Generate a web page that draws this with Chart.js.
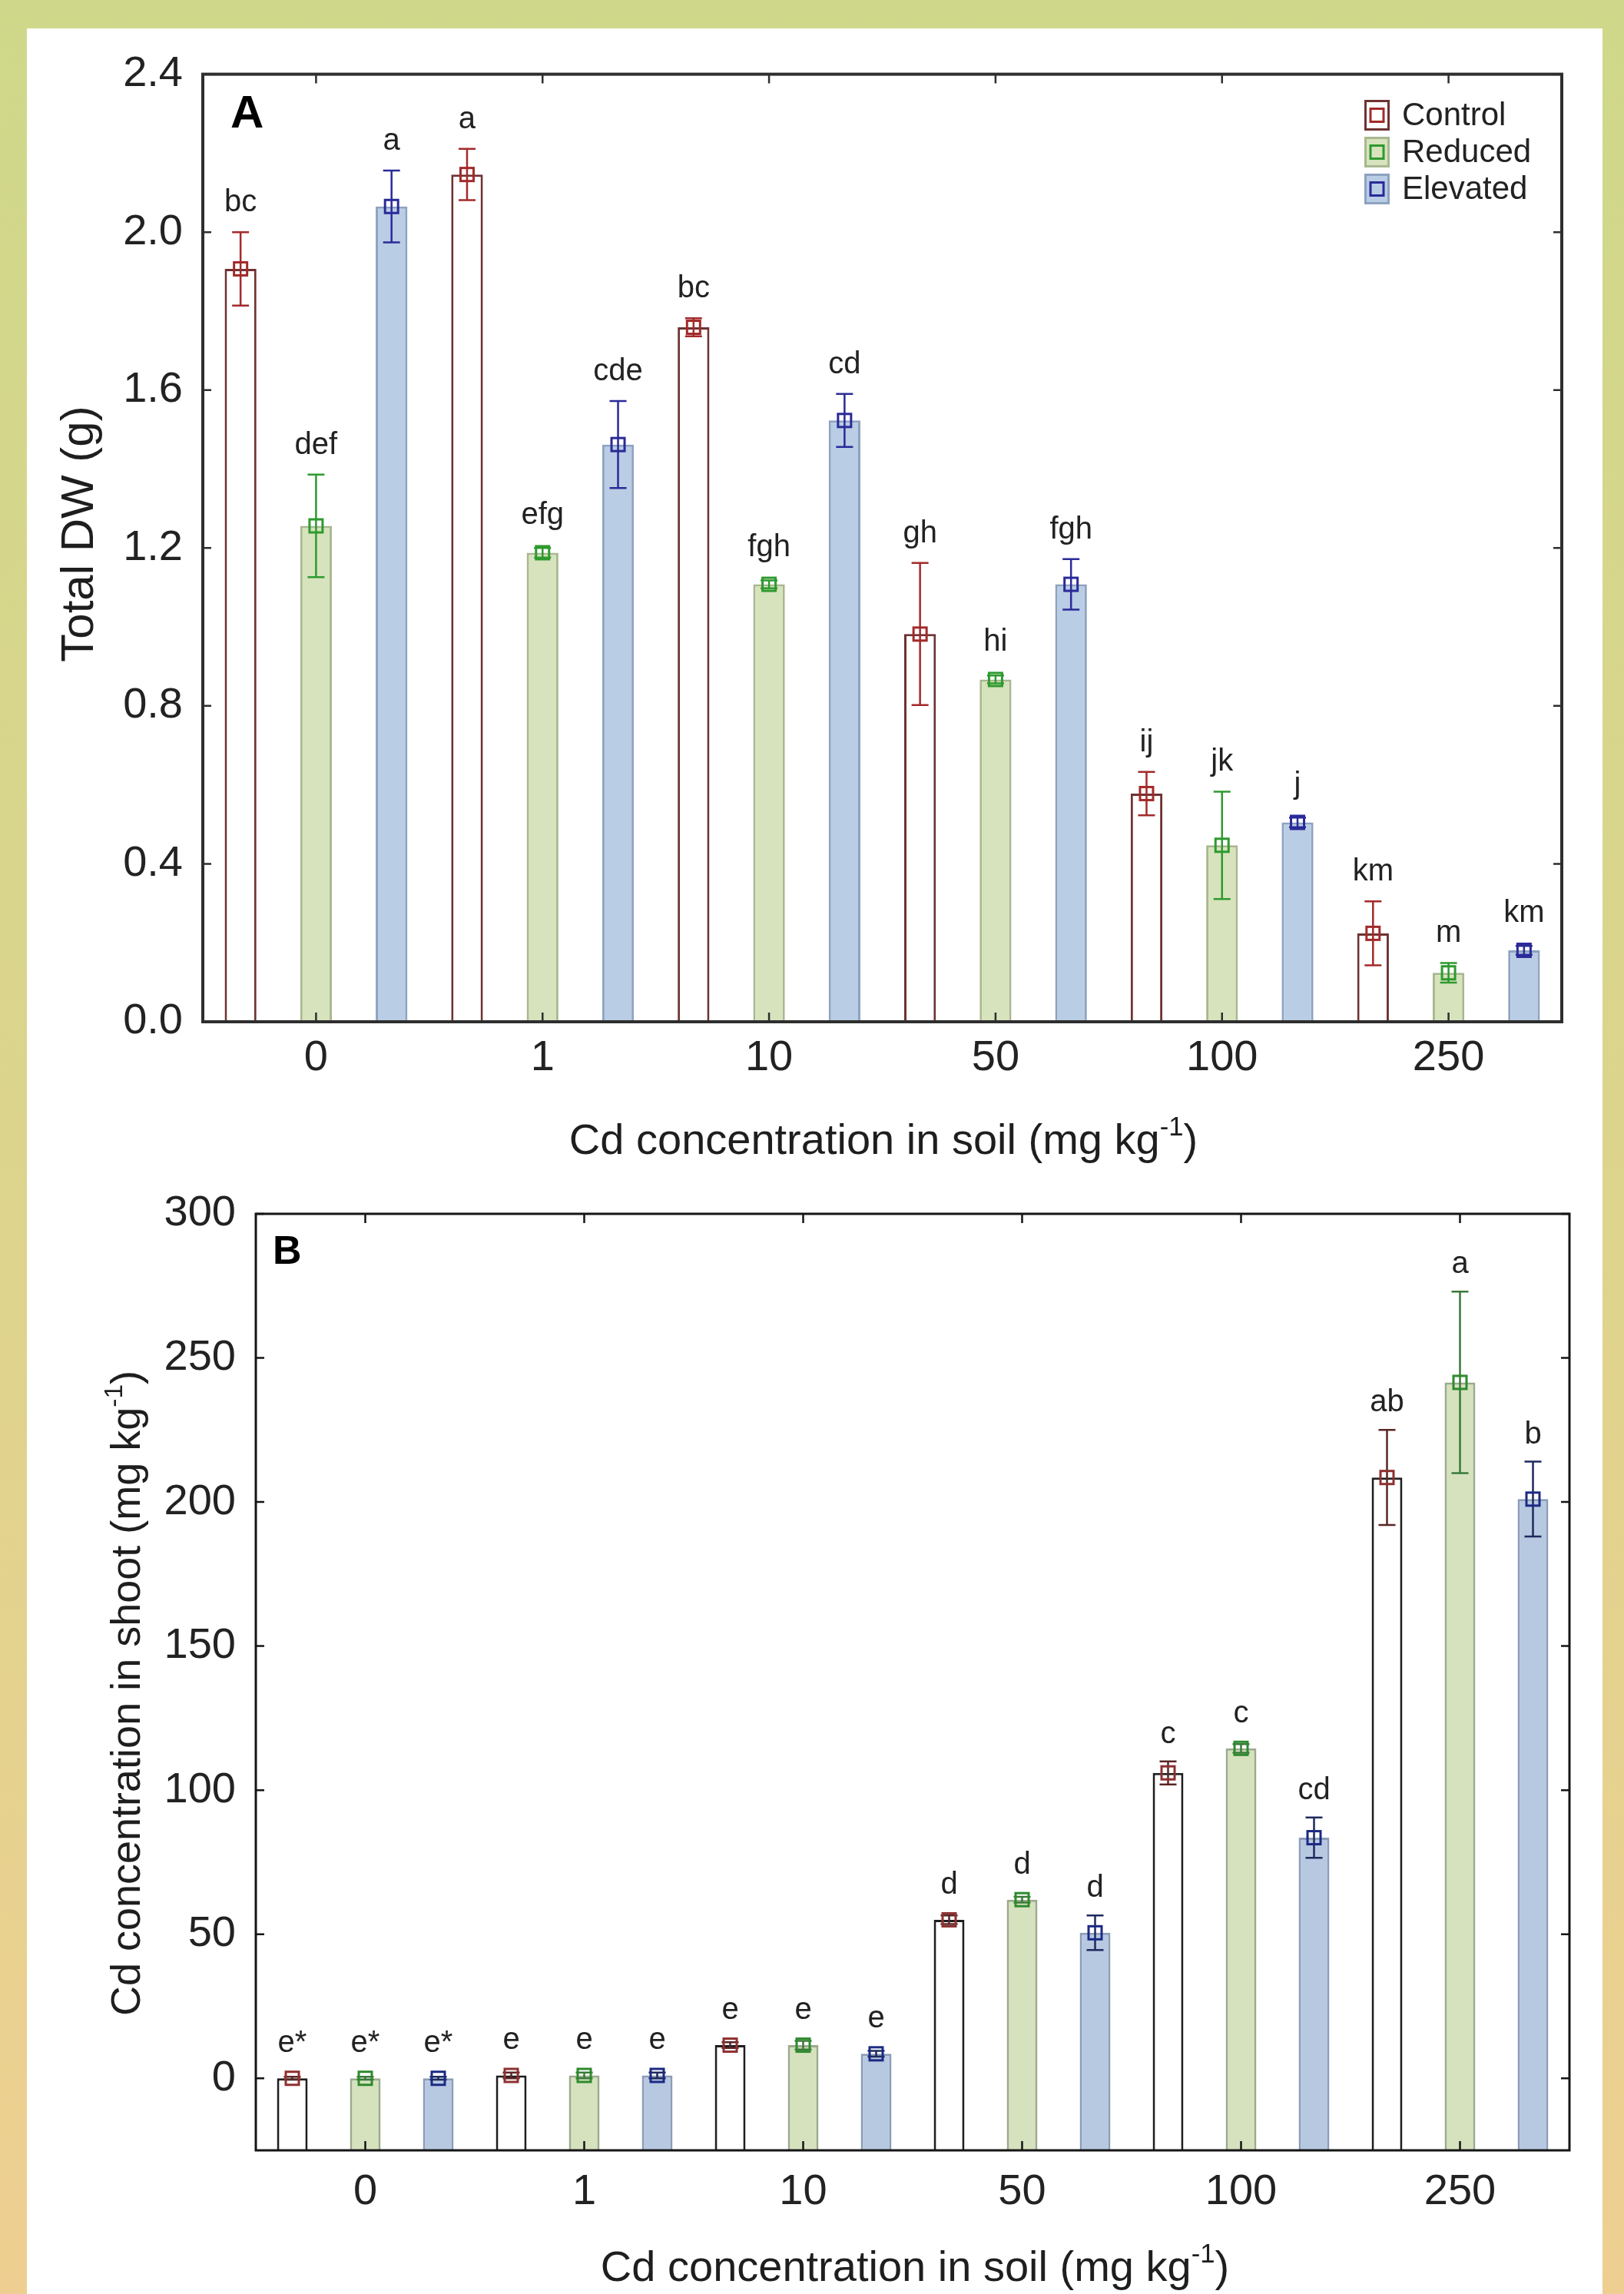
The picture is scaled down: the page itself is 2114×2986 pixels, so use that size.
<!DOCTYPE html>
<html>
<head>
<meta charset="utf-8">
<script src="https://cdn.jsdelivr.net/npm/chart.js@4.4.1/dist/chart.umd.min.js"></script>
<style>
  html, body { margin: 0; padding: 0; }
  body {
    width: 2114px; height: 2986px; position: relative; overflow: hidden;
    background: linear-gradient(to bottom, #cfd88a 0%, #dcd48d 50%, #eecf91 100%);
  }
  #panel { position: absolute; left: 35px; top: 37px; width: 2051px; height: 2949px; background: #fff; }
  canvas { position: absolute; left: 35px; }
  #chartA { top: 37px; }
  #chartB { top: 1490px; }
</style>
</head>
<body>
<div id="panel"></div>
<canvas id="chartA" width="2051" height="1530"></canvas>
<canvas id="chartB" width="2051" height="1496"></canvas>
<script>
// categories: Cd concentration in soil (mg/kg)
const categories = ['0', '1', '10', '50', '100', '250'];
const seriesNames = ['Control', 'Reduced', 'Elevated'];

// panel A - total dry weight (g), mean and error
const dwControl = [1.907, 2.146, 1.759, 0.982, 0.578, 0.224];
const dwControlErr = [0.093, 0.065, 0.023, 0.18, 0.055, 0.081];
const dwReduced = [1.256, 1.188, 1.108, 0.867, 0.447, 0.124];
const dwReducedErr = [0.13, 0.012, 0.01, 0.01, 0.136, 0.025];
const dwElevated = [2.065, 1.462, 1.523, 1.108, 0.505, 0.181];
const dwElevatedErr = [0.091, 0.11, 0.067, 0.064, 0.012, 0.011];
const dwLettersControl = ['bc', 'a', 'bc', 'gh', 'ij', 'km'];
const dwLettersReduced = ['def', 'efg', 'fgh', 'hi', 'jk', 'm'];
const dwLettersElevated = ['a', 'cde', 'cd', 'fgh', 'j', 'km'];
const dwTicks = [0, 0.4, 0.8, 1.2, 1.6, 2.0, 2.4];

// panel B - Cd concentration in shoot (mg/kg)
const cdControl = [0, 1, 11.5, 55, 106, 208.5];
const cdControlErr = [0.5, 1, 1, 1.5, 4, 16.5];
const cdReduced = [0, 1, 11.5, 62, 114.5, 241.5];
const cdReducedErr = [0.5, 1, 1.5, 1, 1.5, 31.5];
const cdElevated = [0, 1, 8.5, 50.5, 83.5, 201];
const cdElevatedErr = [0.5, 1, 1, 6, 7, 13];
const cdLettersControl = ['e*', 'e', 'e', 'd', 'c', 'ab'];
const cdLettersReduced = ['e*', 'e', 'e', 'd', 'c', 'a'];
const cdLettersElevated = ['e*', 'e', 'e', 'd', 'cd', 'b'];
const cdTicks = [0, 50, 100, 150, 200, 250, 300];

const FONT = '"Liberation Sans", Arial, sans-serif';
Chart.defaults.font.family = FONT;
Chart.defaults.color = '#222';

// draws a title with a "-1" superscript part
function drawTitle(ctx, parts, x, y, size, rotate) {
  ctx.save();
  ctx.translate(x, y);
  if (rotate) ctx.rotate(-Math.PI / 2);
  ctx.fillStyle = '#1e1e1e';
  ctx.textBaseline = 'alphabetic';
  ctx.textAlign = 'left';
  const sizes = parts.map((p, i) => (i === 1 ? size * 0.62 : size));
  const widths = parts.map((p, i) => { ctx.font = sizes[i] + 'px ' + FONT; return ctx.measureText(p).width; });
  let cx = -widths.reduce((a, b) => a + b, 0) / 2;
  parts.forEach((p, i) => {
    ctx.font = sizes[i] + 'px ' + FONT;
    ctx.fillText(p, cx, i === 1 ? -size * 0.42 : 0);
    cx += widths[i];
  });
  ctx.restore();
}

function extras(cfg) {
  return {
    id: 'extras',
    afterDatasetsDraw(chart) {
      const ctx = chart.ctx, ys = chart.scales.y;
      cfg.means.forEach((vals, d) => {
        chart.getDatasetMeta(d).data.forEach((bar, i) => {
          const x = bar.x;
          const ym = ys.getPixelForValue(vals[i]);
          const yt = ys.getPixelForValue(vals[i] + cfg.errs[d][i]);
          const yb = ys.getPixelForValue(vals[i] - cfg.errs[d][i]);
          ctx.save();
          ctx.strokeStyle = cfg.errColors[d];
          ctx.lineWidth = 2.5;
          ctx.beginPath();
          ctx.moveTo(x, yt); ctx.lineTo(x, yb);
          ctx.moveTo(x - 11, yt); ctx.lineTo(x + 11, yt);
          ctx.moveTo(x - 11, yb); ctx.lineTo(x + 11, yb);
          ctx.stroke();
          ctx.strokeStyle = cfg.markColors[d];
          ctx.lineWidth = 3;
          ctx.strokeRect(x - 8.5, ym - 8.5, 17, 17);
          ctx.fillStyle = '#222';
          ctx.font = '40px ' + FONT;
          ctx.textAlign = 'center';
          ctx.textBaseline = 'alphabetic';
          ctx.fillText(cfg.letters[d][i], x, Math.min(yt, ym - 10) - cfg.gap);
          ctx.restore();
        });
      });
    },
    afterDraw(chart) {
      const ctx = chart.ctx, a = chart.chartArea, xs = chart.scales.x, ys = chart.scales.y;
      ctx.save();
      // frame and inward ticks
      ctx.strokeStyle = cfg.frameColor;
      ctx.lineWidth = cfg.frameWidth;
      ctx.strokeRect(a.left, a.top, a.right - a.left, a.bottom - a.top);
      ctx.lineWidth = 2.5;
      ctx.beginPath();
      cfg.ticks.forEach(v => {
        const p = ys.getPixelForValue(v);
        ctx.moveTo(a.left, p); ctx.lineTo(a.left + 11, p);
        ctx.moveTo(a.right, p); ctx.lineTo(a.right - 11, p);
      });
      categories.forEach((c, i) => {
        const p = xs.getPixelForValue(i);
        ctx.moveTo(p, a.top); ctx.lineTo(p, a.top + 12);
        ctx.moveTo(p, a.bottom); ctx.lineTo(p, a.bottom - 12);
      });
      ctx.stroke();
      // panel letter
      ctx.fillStyle = '#000';
      ctx.font = 'bold ' + cfg.panelSize + 'px ' + FONT;
      ctx.textAlign = 'left';
      ctx.textBaseline = 'alphabetic';
      ctx.fillText(cfg.panel, a.left + cfg.panelDx, a.top + cfg.panelDy);
      ctx.restore();
      // axis titles
      drawTitle(ctx, cfg.xTitle, cfg.xTitlePos[0], cfg.xTitlePos[1], cfg.xTitleSize, false);
      drawTitle(ctx, cfg.yTitle, cfg.yTitlePos[0], cfg.yTitlePos[1], cfg.yTitleSize, true);
      // legend
      if (cfg.legend) {
        ctx.save();
        seriesNames.forEach((name, i) => {
          const bx = cfg.legend[0], by = cfg.legend[1] + i * 48;
          ctx.fillStyle = cfg.fills[i];
          ctx.fillRect(bx, by, 33, 40);
          ctx.strokeStyle = cfg.borders[i];
          ctx.lineWidth = 3;
          ctx.strokeRect(bx + 1.5, by + 1.5, 30, 37);
          ctx.strokeStyle = cfg.markColors[i];
          ctx.strokeRect(bx + 8, by + 11.5, 17, 17);
          ctx.fillStyle = '#222';
          ctx.font = '42px ' + FONT;
          ctx.fillText(name, bx + 49, by + 33);
        });
        ctx.restore();
      }
    }
  };
}

function makeChart(id, cfg) {
  const datasets = seriesNames.map((name, d) => ({
    label: name,
    data: cfg.means[d],
    base: cfg.base,
    backgroundColor: cfg.fills[d],
    borderColor: cfg.borders[d],
    borderWidth: 3,
    barPercentage: 0.42,
    categoryPercentage: 1.0
  }));
  return new Chart(document.getElementById(id), {
    type: 'bar',
    data: { labels: categories, datasets },
    options: {
      responsive: false,
      animation: false,
      layout: { padding: { top: cfg.pad[0], right: cfg.pad[1], left: 0, bottom: 0 } },
      plugins: { legend: { display: false }, tooltip: { enabled: false } },
      scales: {
        x: {
          grid: { display: false, drawTicks: false },
          border: { display: false },
          ticks: { font: { size: 56 }, color: '#222', padding: cfg.xPad },
          afterFit: s => { s.height = cfg.xHeight; }
        },
        y: {
          min: cfg.min, max: cfg.max,
          grid: { display: false, drawTicks: false },
          border: { display: false },
          ticks: { font: { size: 56 }, color: '#222', padding: 26, callback: cfg.fmt },
          afterBuildTicks: s => { s.ticks = cfg.ticks.map(v => ({ value: v })); },
          afterFit: s => { s.width = cfg.yWidth; }
        }
      }
    },
    plugins: [extras(cfg)]
  });
}

makeChart('chartA', {
  means: [dwControl, dwReduced, dwElevated],
  errs: [dwControlErr, dwReducedErr, dwElevatedErr],
  letters: [dwLettersControl, dwLettersReduced, dwLettersElevated],
  ticks: dwTicks, min: 0, max: 2.4, base: 0,
  fmt: v => v.toFixed(1),
  fills: ['#ffffff', '#d7e3bd', '#b9cde5'],
  borders: ['#6e3232', '#a9b78f', '#8ea2c0'],
  errColors: ['#a32a2a', '#2e9a2e', '#2a2a98'],
  markColors: ['#a32a2a', '#2e9a2e', '#2a2a98'],
  gap: 27,
  frameColor: '#2e2e2e', frameWidth: 4,
  pad: [58, 53], yWidth: 229, xHeight: 237, xPad: 14,
  panel: 'A', panelSize: 60, panelDx: 36, panelDy: 69,
  xTitle: ['Cd concentration in soil (mg kg', '-1', ')'], xTitlePos: [1115, 1465], xTitleSize: 56,
  yTitle: ['Total DW (g)', '', ''], yTitlePos: [86, 658], yTitleSize: 60,
  legend: [1741, 93]
});

makeChart('chartB', {
  means: [cdControl, cdReduced, cdElevated],
  errs: [cdControlErr, cdReducedErr, cdElevatedErr],
  letters: [cdLettersControl, cdLettersReduced, cdLettersElevated],
  ticks: cdTicks, min: -25, max: 300, base: -25,
  fmt: v => String(v),
  fills: ['#ffffff', '#d6e2be', '#b7c9e1'],
  borders: ['#1e1e1e', '#9caa8c', '#8c9cb8'],
  errColors: ['#5a2626', '#3a7a3a', '#1e2a5e'],
  markColors: ['#8e3030', '#2e8a2e', '#1c2a84'],
  gap: 24,
  frameColor: '#151515', frameWidth: 3,
  pad: [90, 43], yWidth: 298, xHeight: 187, xPad: 21,
  panel: 'B', panelSize: 52, panelDx: 22, panelDy: 65,
  xTitle: ['Cd concentration in soil (mg kg', '-1', ')'], xTitlePos: [1156, 1479], xTitleSize: 56,
  yTitle: ['Cd concentration in shoot (mg kg', '-1', ')'], yTitlePos: [147, 714], yTitleSize: 54,
  legend: null
});
</script>
</body>
</html>
